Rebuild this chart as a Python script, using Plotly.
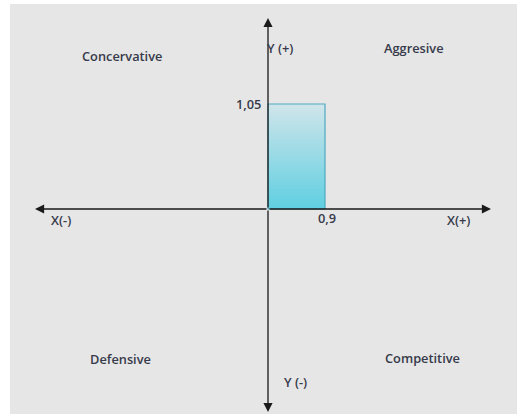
import plotly.graph_objects as go

# data
bar_x = [0.9]
bar_y = [1.05]
value_labels = ["0,9", "1,05"]
quadrants = ["Concervative", "Aggresive", "Defensive", "Competitive"]
axis_labels = ["Y (+)", "Y (-)", "X(-)", "X(+)"]

W, H = 517, 414
ml, mt = 10, 4
px_per_x = 57 / 0.9
px_per_y = 100.0
x0px, y0px = 268, 209

def dx(px):
    return (px - x0px) / px_per_x

def dy(py):
    return (y0px - py) / px_per_y

xr = [dx(ml), dx(W)]
yr = [dy(H), dy(mt)]

fig = go.Figure()

bx, by = bar_x[0], bar_y[0]
fig.add_trace(go.Scatter(
    x=[0, 0, bx, bx, 0], y=[0, by, by, 0, 0],
    fill="toself", mode="lines",
    line=dict(color="#4fa9c0", width=1.2),
    fillgradient=dict(type="vertical",
                      colorscale=[[0, "#5fcfe1"], [1, "#d0e5ea"]]),
    hoverinfo="skip", showlegend=False))

for (tx, ty) in [(dx(491), 0), (dx(35), 0), (0, dy(18)), (0, dy(412))]:
    fig.add_annotation(x=tx, y=ty, ax=0, ay=0, axref="x", ayref="y",
                       xref="x", yref="y", text="", showarrow=True,
                       arrowhead=2, arrowsize=1.4, arrowwidth=1.3,
                       arrowcolor="#1a1a1a")

font = dict(family="Open Sans", size=12.8, color="#363a4a", weight=600)
texts = [
    (quadrants[0], dx(122), dy(56), "center"),
    (quadrants[1], dx(414), dy(48), "center"),
    (quadrants[2], dx(120), dy(359), "center"),
    (quadrants[3], dx(422), dy(358), "center"),
    (axis_labels[0], dx(265), dy(48), "left"),
    (axis_labels[1], dx(282), dy(382), "left"),
    (axis_labels[2], dx(49), dy(220), "left"),
    (axis_labels[3], dx(445), dy(220), "left"),
    (value_labels[1], dx(263), dy(104), "right"),
    (value_labels[0], dx(316), dy(218), "left"),
]
for t, x, y, anc in texts:
    fig.add_annotation(x=x, y=y, text=t, showarrow=False, xanchor=anc,
                       yanchor="middle", font=font)

fig.update_layout(
    width=W, height=H,
    margin=dict(l=ml, r=0, t=mt, b=0),
    paper_bgcolor="white", plot_bgcolor="#e6e6e6",
    xaxis=dict(range=xr, visible=False, fixedrange=True),
    yaxis=dict(range=yr, visible=False, fixedrange=True),
    showlegend=False,
)

fig.write_html("out.html", config={"displayModeBar": False},
               post_script="document.body.style.margin='0';")
